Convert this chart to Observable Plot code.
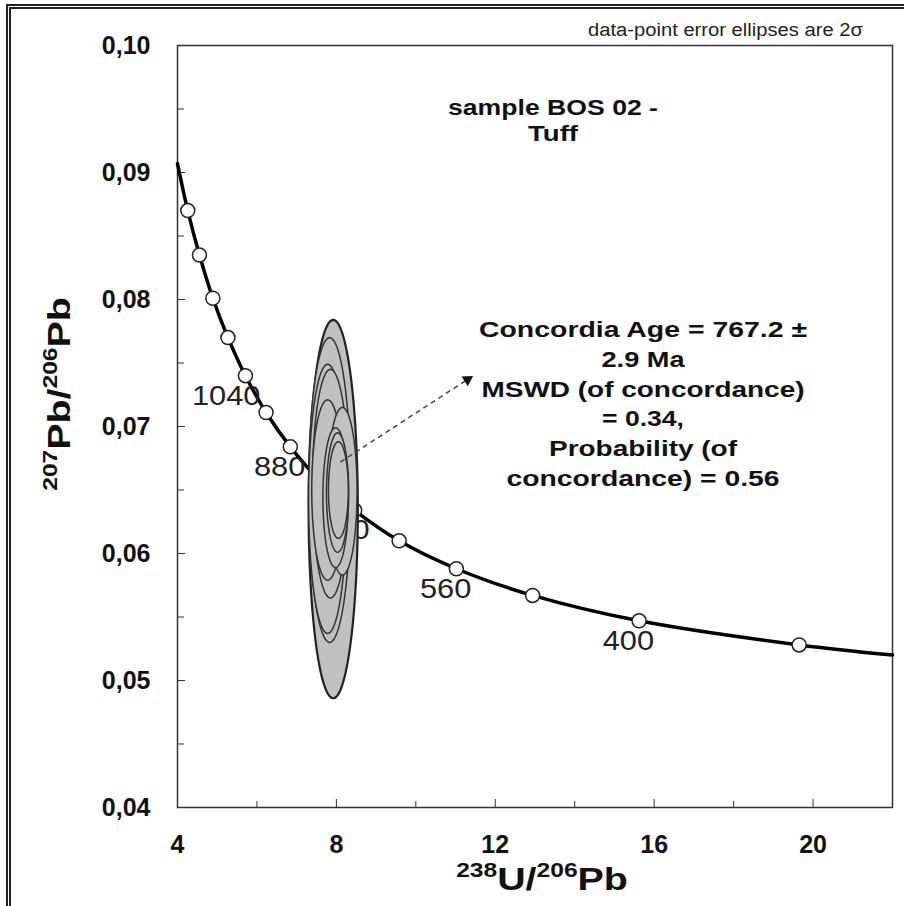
<!DOCTYPE html>
<html><head><meta charset="utf-8">
<script src="https://cdn.jsdelivr.net/npm/d3@7"></script>
<script src="https://cdn.jsdelivr.net/npm/@observablehq/plot@0.6"></script>
<style>
body{margin:0;background:#fff;}
#wrap{position:relative;width:904px;height:906px;overflow:hidden;background:#fff;}
#border{position:absolute;left:6px;top:4px;width:1000px;height:1000px;border:5px double #222;box-sizing:border-box;}
#chart{position:absolute;left:0;top:0;}
svg text{font-family:"Liberation Sans",Arial,sans-serif;}
</style></head><body>
<div id="wrap"><div id="border"></div><div id="chart"></div></div>
<script>
// Concordia tick marks (age in Ma)
const tickAges = [320, 400, 480, 560, 640, 720, 800, 880, 960, 1040, 1120, 1200, 1280, 1360];
const tickU    = [19.65, 15.62, 12.94, 11.02, 9.58, 8.46, 7.57, 6.84, 6.23, 5.71, 5.27, 4.89, 4.553, 4.258];
const tickPb   = [0.0528, 0.0547, 0.0567, 0.0588, 0.0610, 0.0634, 0.0658, 0.0684, 0.0711, 0.0740, 0.0770, 0.0801, 0.0835, 0.0870];
// concordia curve ends at the plot edges
const curveStartU = 22, curveStartPb = 0.0520;
const curveEndU = 4, curveEndPb = 0.0907;
const labelledAges = [400, 560, 720, 880, 1040];

// error ellipses (2 sigma): centre and semi-axes
const ellX  = [7.92, 7.83, 7.78, 7.85, 7.78, 8.15, 7.98, 8.03, 8.05];
const ellY  = [0.0635, 0.0650, 0.0643, 0.0655, 0.0650, 0.0649, 0.0644, 0.0648, 0.0650];
const ellRx = [0.62, 0.53, 0.48, 0.45, 0.40, 0.37, 0.32, 0.28, 0.25];
const ellRy = [0.0149, 0.0120, 0.0106, 0.0090, 0.0071, 0.0066, 0.0055, 0.0047, 0.0038];

const xMajor = [4, 8, 12, 16, 20];
const xMinor = [6, 10, 14, 18];
const yMajor = [0.04, 0.05, 0.06, 0.07, 0.08, 0.09, 0.10];
const yMinor = [0.045, 0.055, 0.065, 0.075, 0.085, 0.095];

const arrow = [{x1: 8.10, y1: 0.0672, x2: 11.30, y2: 0.0737}];

const annLines = ["Concordia Age = 767.2 ±", "2.9 Ma", "MSWD (of concordance)", "= 0.34,", "Probability (of", "concordance) = 0.56"];
const sampleLines = ["sample BOS 02 -", "Tuff"];
const captionText = "data-point error ellipses are 2σ";

const ticks = tickAges.map((a, i) => ({age: a, x: tickU[i], y: tickPb[i]}));
const curve = [{x: curveStartU, y: curveStartPb}, ...ticks, {x: curveEndU, y: curveEndPb}];
const labels = ticks.filter(d => labelledAges.includes(d.age));

const N = 120;
const ellRows = ellX.flatMap((cx, i) => d3.range(N + 1).map(k => {
  const a = 2 * Math.PI * k / N;
  return {id: i, x: cx + ellRx[i] * Math.cos(a), y: ellY[i] + ellRy[i] * Math.sin(a)};
}));

const font = '"Liberation Sans", Arial, sans-serif';
const fmt = d => d.toFixed(2).replace(".", ",");

const chart = Plot.plot({
  width: 904, height: 906,
  marginLeft: 177, marginTop: 45, marginRight: 12, marginBottom: 99,
  style: {fontFamily: font, background: "transparent", color: "#222"},
  x: {domain: [4, 22], label: null},
  y: {domain: [0.04, 0.10], label: null},
  marks: [
    Plot.axisX({ticks: xMajor, tickSize: -8, text: null, stroke: "#333"}),
    Plot.axisX({ticks: xMinor, tickSize: -6, text: null, stroke: "#333"}),
    Plot.axisX({ticks: xMajor, tickSize: 0, tickPadding: 28, fontSize: 25, fontWeight: "bold", tickFormat: d => d, label: null, fill: "#111"}),
    Plot.axisY({ticks: yMajor, tickSize: -8, text: null, stroke: "#333"}),
    Plot.axisY({ticks: yMinor, tickSize: -7, text: null, stroke: "#333"}),
    Plot.axisY({ticks: yMajor, tickSize: 0, tickPadding: 27, fontSize: 25, fontWeight: "bold", tickFormat: fmt, label: null, fill: "#111"}),
    Plot.frame({stroke: "#333", strokeWidth: 1.5}),
    Plot.line(curve, {x: "x", y: "y", curve: "catmull-rom", stroke: "#000", strokeWidth: 3.5}),
    Plot.dot(ticks, {x: "x", y: "y", r: 7, fill: "white", stroke: "#222", strokeWidth: 1.5}),
    Plot.text(labels, {x: "x", y: "y", text: d => String(d.age), textAnchor: "end", dx: 15, dy: 20, fontSize: 28, fill: "#222"}),
    Plot.line(ellRows.filter(d => d.id === 0), {x: "x", y: "y", fill: "#c0c0c0", stroke: "#222", strokeWidth: 2.2}),
    Plot.line(ellRows.filter(d => d.id > 0), {x: "x", y: "y", z: "id", fill: "#c0c0c0", stroke: "#333", strokeWidth: 1.5}),
    Plot.link(arrow, {x1: "x1", y1: "y1", x2: "x2", y2: "y2", stroke: "#444", strokeWidth: 1.5, strokeDasharray: "5,4"}),
    Plot.dot(arrow, {x: "x2", y: "y2", symbol: "triangle2", r: 5.5, fill: "#111", rotate: 57})
  ]
});
document.getElementById("chart").appendChild(chart);

const svg = d3.select(chart);
// widen the age labels slightly, as in the source picture
svg.selectAll('g[aria-label="text"] text').each(function() {
  const w = this.getComputedTextLength();
  d3.select(this).attr("textLength", w * 1.1).attr("lengthAdjust", "spacingAndGlyphs");
});

function titleText(g, parts) {
  const t = g.append("text").attr("text-anchor", "middle").attr("font-weight", "bold").attr("fill", "#111");
  parts.forEach((p, i) => {
    t.append("tspan").attr("font-size", p.s ? 20 : 32)
      .attr("dy", p.s ? -13 : (i > 0 ? 13 : 0)).text(p.t);
  });
  return t;
}
// x axis title
const xg = svg.append("g").attr("transform", "translate(542,890) scale(1.23,1)");
titleText(xg, [{t: "238", s: true}, {t: "U/"}, {t: "206", s: true}, {t: "Pb"}]);
// y axis title
const yg = svg.append("g").attr("transform", "translate(70,394) rotate(-90) scale(1.23,1)");
titleText(yg, [{t: "207", s: true}, {t: "Pb/"}, {t: "206", s: true}, {t: "Pb"}]);

// caption
svg.append("text").attr("x", 863).attr("y", 36).attr("text-anchor", "end")
  .attr("font-size", 18).attr("fill", "#222")
  .attr("textLength", 275).attr("lengthAdjust", "spacingAndGlyphs").text(captionText);

// sample title
const sampleW = [210, 50];
sampleLines.forEach((l, i) => svg.append("text").attr("x", 553).attr("y", 115 + i * 26)
  .attr("text-anchor", "middle").attr("font-weight", "bold").attr("font-size", 22).attr("fill", "#111")
  .attr("textLength", sampleW[i]).attr("lengthAdjust", "spacingAndGlyphs").text(l));

// concordia annotation
const annW = [328, 83, 323, 82, 188, 273];
annLines.forEach((l, i) => svg.append("text").attr("x", 643).attr("y", 337 + i * 29.8)
  .attr("text-anchor", "middle").attr("font-weight", "bold").attr("font-size", 22).attr("fill", "#111")
  .attr("textLength", annW[i]).attr("lengthAdjust", "spacingAndGlyphs").text(l));
</script></body></html>
